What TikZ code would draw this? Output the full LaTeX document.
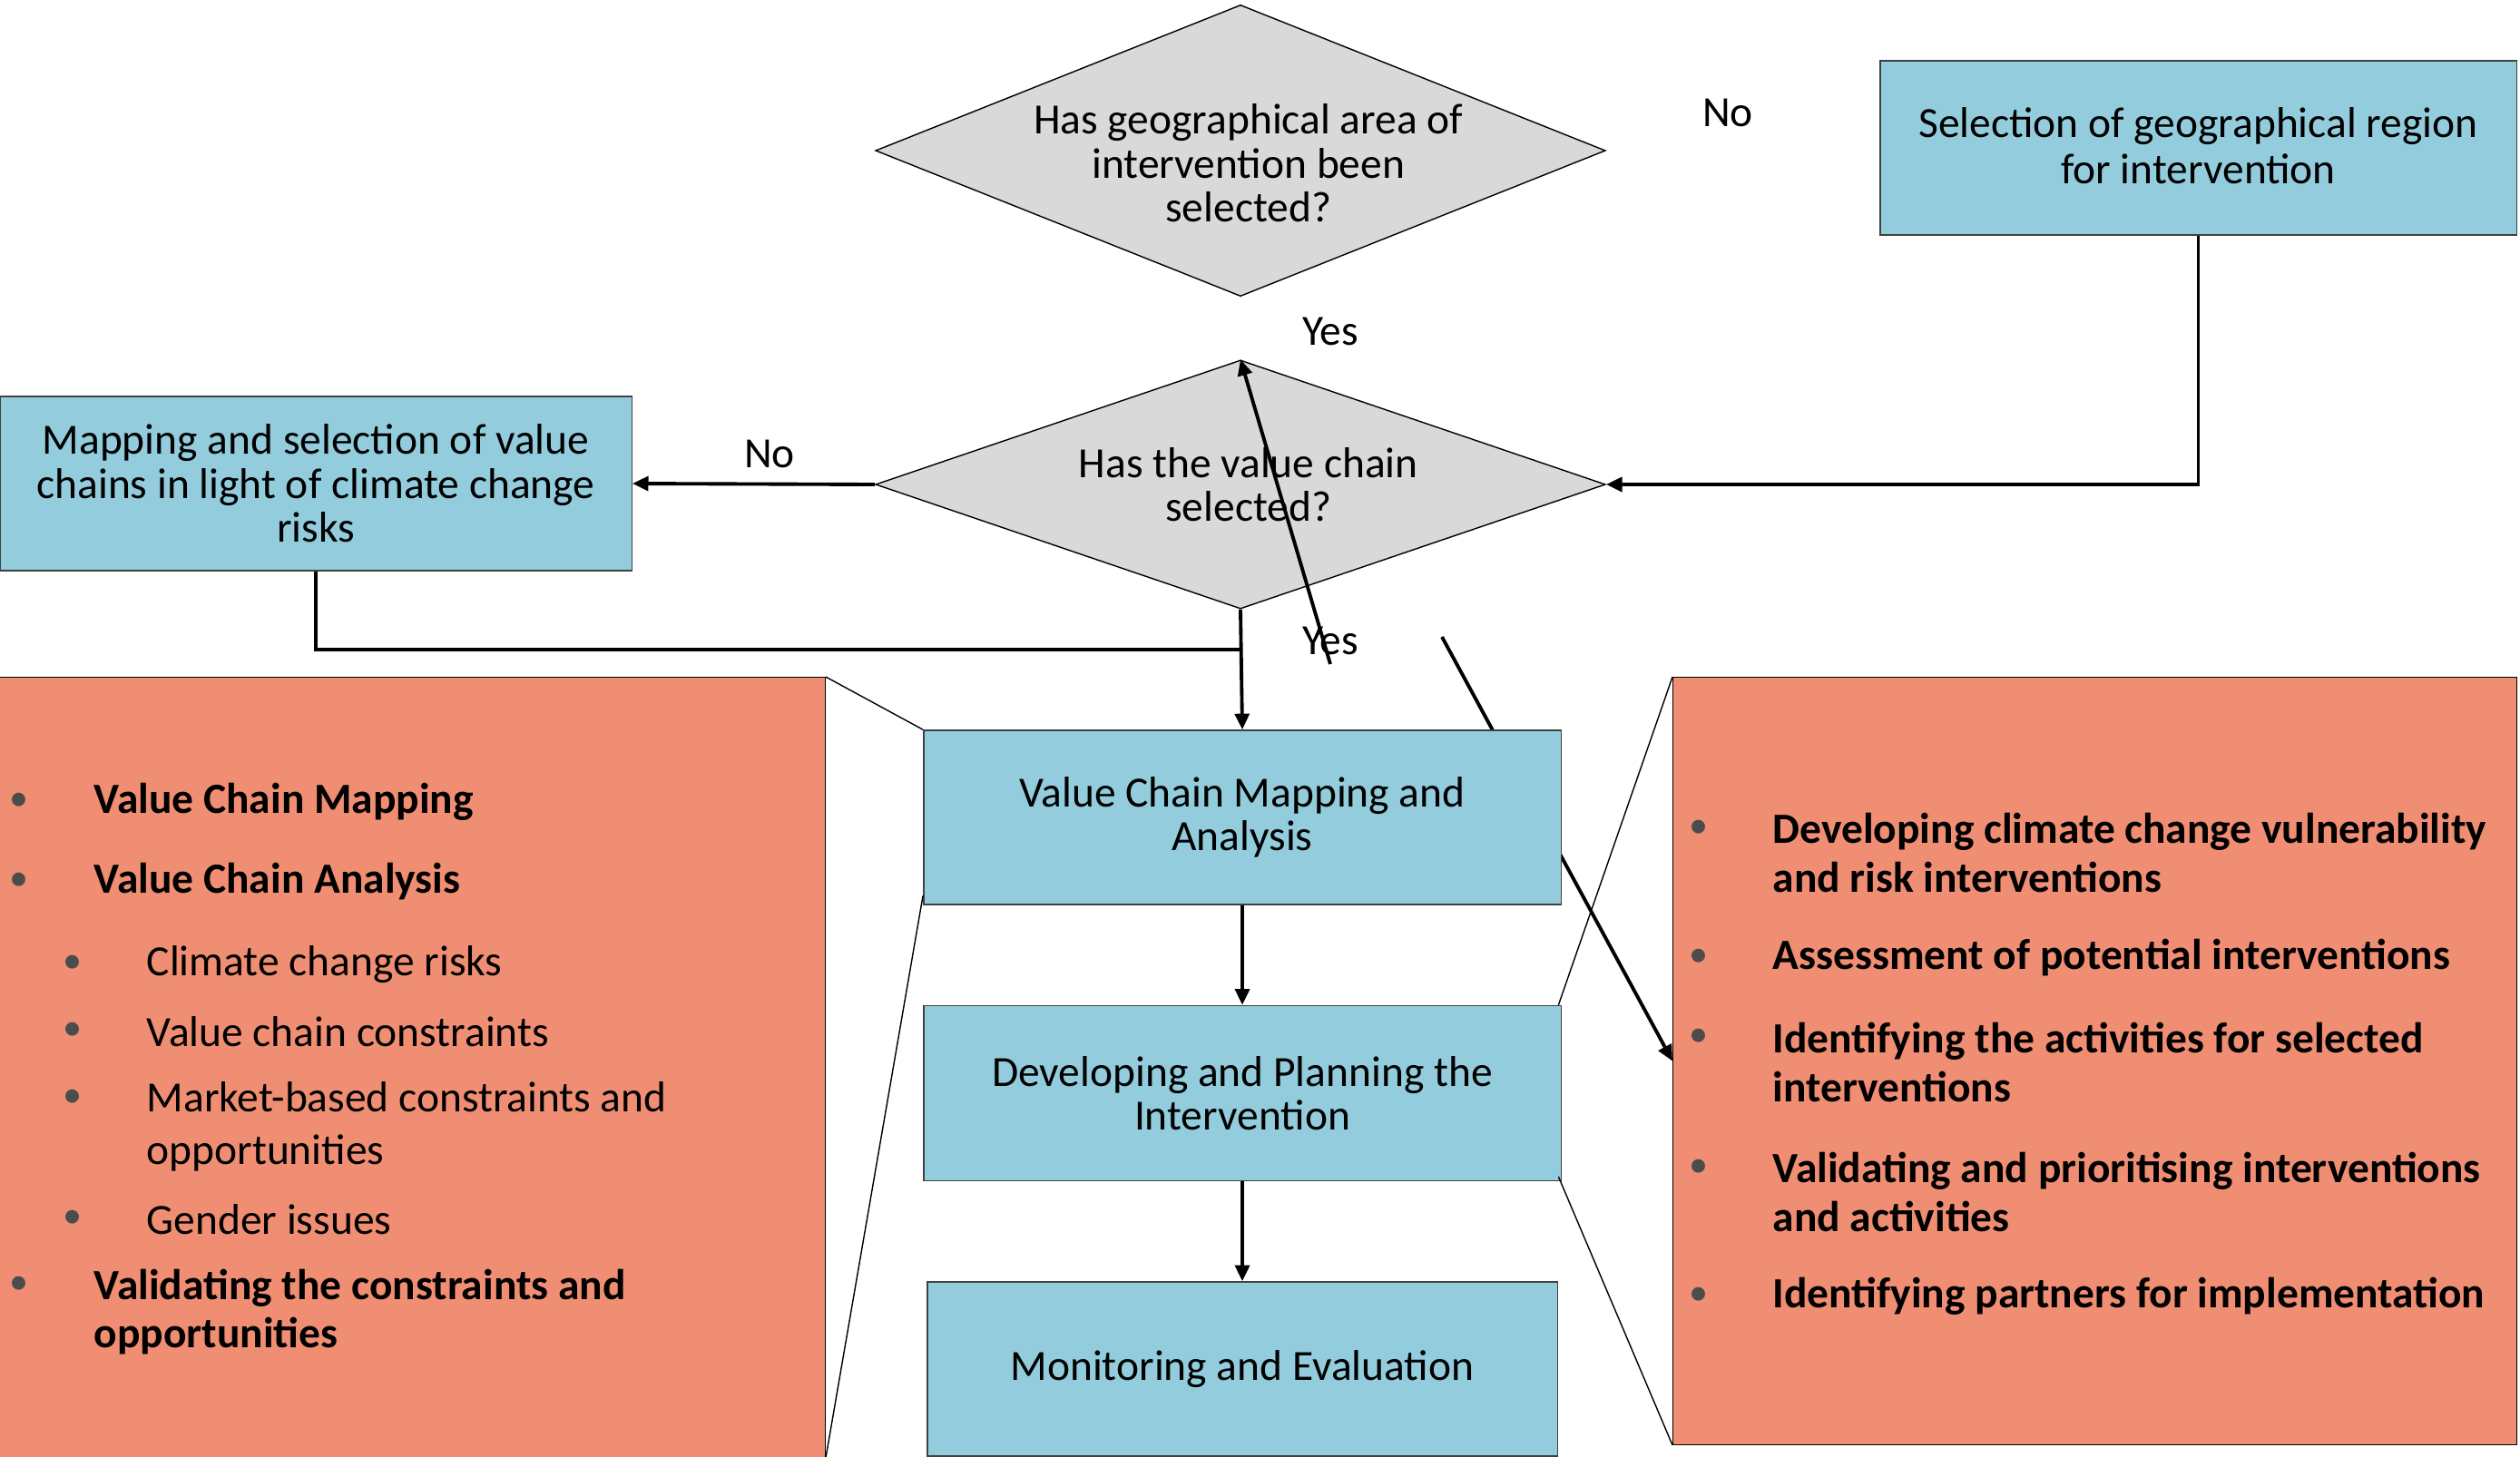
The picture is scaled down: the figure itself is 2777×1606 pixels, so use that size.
\documentclass[tikz,border=0pt]{standalone}
\usepackage{fontspec}
\setmainfont{Carlito}
\usetikzlibrary{shapes.geometric,arrows.meta,positioning}
\definecolor{vcblue}{RGB}{147,205,221}
\definecolor{vcorange}{RGB}{240,142,115}
\definecolor{vcgrey}{RGB}{217,217,217}

\begin{document}
\begin{tikzpicture}[
  x=0.01cm, y=-0.01cm,
  font=\fontsize{13.5}{13.8}\selectfont,
  >={Triangle[length=5pt,width=4.5pt]},
  stepbox/.style={rectangle, draw=black!75, fill=vcblue, align=center, inner sep=0pt,
                  minimum width=7.02cm, minimum height=1.92cm},
  decision/.style={diamond, draw=black, fill=vcgrey, inner sep=0pt, minimum width=8.04cm},
  qtext/.style={align=center, inner sep=0pt, xshift=2.5pt},
  listbox/.style={rectangle, draw=black, fill=vcorange, inner sep=0pt},
  flow/.style={->, line width=1.1pt},
  link/.style={line width=1.1pt},
  callout/.style={draw=black, line width=0.4pt},
  ans/.style={inner sep=0pt},
  dotmark/.style={inner sep=0pt, text=black!70, font=\fontsize{12}{12}\selectfont},
  mainitem/.style={anchor=west, inner sep=0pt, align=left, font=\fontsize{13.5}{15.2}\selectfont\bfseries},
  subitem/.style={anchor=west, inner sep=0pt, align=left, font=\fontsize{13.5}{16.5}\selectfont},
]
\useasboundingbox (0,0) rectangle (2777,1606);

% detail boxes
\node[listbox, minimum width=9.09cm, minimum height=8.59cm] (lbox) at (454.5,1176.5) {};
\node[listbox, minimum width=9.29cm, minimum height=8.45cm] (rbox) at (2308.5,1169.5) {};

% stray arrow, runs behind the first step
\coordinate (stray) at (1589,702);
\draw[flow] (stray) -- (rbox.west);

% steps
\node[stepbox] (vcma)    at (1369,901)  {Value Chain Mapping and\\Analysis};
\node[stepbox, minimum height=1.93cm] (devplan) at (1369,1205) {Developing and Planning the\\Intervention};
\node[stepbox, minimum width=6.94cm] (monev) at (1369,1509) {Monitoring and Evaluation};
\node[stepbox, minimum width=6.96cm] (mapsel) at (348,533)
  {Mapping and selection of value\\chains in light of climate change\\risks};
\node[stepbox, minimum width=7.01cm] (geo) at (2422.5,163)
  {\raisebox{1.5pt}{\shortstack{Selection of geographical region\\for intervention}}};

% decisions
\node[decision, minimum height=3.21cm,
      label={[qtext, yshift=-4pt]center:{Has geographical area of\\intervention been\\selected?}}]
  (dq1) at (1367,166) {};
\node[decision, minimum height=2.74cm,
      label={[qtext]center:{Has the value chain\\selected?}}]
  (dq2) at (1367,534) {};

% answers
\node[ans] (no1)  at (1904,124) {No};
\node[ans] (no2)  at (848,500)  {No};
\node[ans] (yes1) at (1466,365) {Yes};
\node[ans] (yes2) at (1466,706) {Yes};

% connectors
\coordinate (merge) at (1367,716);
\coordinate (yesfoot) at (1466,732);
\draw[flow] (geo.south) |- (dq2.east);
\draw[flow] (dq2.west) -- (mapsel.east);
\draw[link] (mapsel.south) |- (merge);
\draw[flow] (dq2.south) -- (vcma.north);
\draw[flow] (yesfoot) -- (dq2.north);
\draw[flow] (vcma) -- (devplan);
\draw[flow] (devplan) -- (monev);

% callout lines
\draw[callout] (lbox.north east) -- (vcma.north west);
\draw[callout] (lbox.south east) -- ([yshift=3pt]vcma.south west);
\draw[callout] (rbox.north west) -- ([xshift=-1pt]devplan.north east);
\draw[callout] (rbox.south west) -- ([xshift=-1pt, yshift=1.5pt]devplan.south east);

% left list
\foreach \y/\n in {884/1, 972/2, 1417/3}
  \node[dotmark] (lb\n) at (21,\y) {•};
\foreach \y/\n in {1063/1, 1137/2, 1211/3, 1344/4}
  \node[dotmark] (ls\n) at (80,\y) {•};
\node[mainitem] (vcmap)  at (103,884)  {Value Chain Mapping};
\node[mainitem] (vcana)  at (103,972)  {Value Chain Analysis};
\node[subitem]  (risks)  at (161,1063) {Climate change risks};
\node[subitem]  (constr) at (161,1137) {Value chain constraints};
\node[subitem]  (market) at (161,1242) {Market-based constraints and\\opportunities};
\node[subitem]  (gender) at (161,1344) {Gender issues};
\node[mainitem] (valid)  at (103,1446) {Validating the constraints and\\opportunities};

% right list
\foreach \y/\n in {914/1, 1056/2, 1144/3, 1288/4, 1429/5}
  \node[dotmark] (rb\n) at (1872,\y) {•};
\node[mainitem] (vuln)    at (1953,940)  {Developing climate change vulnerability\\and risk interventions};
\node[mainitem] (assess)  at (1953,1056) {Assessment of potential interventions};
\node[mainitem] (activ)   at (1953,1171) {Identifying the activities for selected\\interventions};
\node[mainitem] (prior)   at (1953,1314) {Validating and prioritising interventions\\and activities};
\node[mainitem] (partner) at (1953,1429) {Identifying partners for implementation};

\end{tikzpicture}
\end{document}
